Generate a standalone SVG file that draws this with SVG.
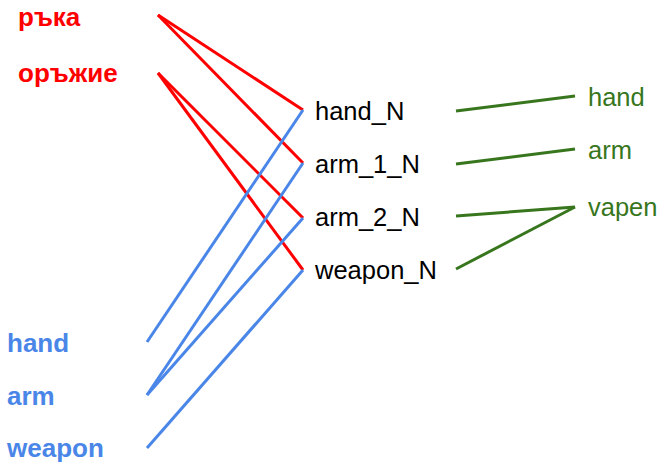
<svg xmlns="http://www.w3.org/2000/svg" width="660" height="463" viewBox="0 0 660 463">
  <style>
    text { font-family: "Liberation Sans", Arial, sans-serif; font-size: 25.5px; }
    .bg { font-weight: bold; fill: #ff0000; font-size: 26px; }
    .en { font-weight: bold; fill: #4a86e8; font-size: 26px; }
    .lex { fill: #000000; }
    .sv { fill: #38761d; }
    .c-bg { stroke: #ff0000; stroke-width: 3; fill: none; }
    .c-en { stroke: #4a86e8; stroke-width: 3; fill: none; }
    .c-sv { stroke: #38761d; stroke-width: 3; fill: none; }
  </style>
  <rect width="660" height="463" fill="#ffffff"/>

  <!-- connectors -->
  <g id="connectors">
    <line class="c-bg" x1="158" y1="15" x2="303" y2="110"/>
    <line class="c-bg" x1="158" y1="15" x2="303" y2="163"/>
    <line class="c-bg" x1="158" y1="73" x2="303" y2="218"/>
    <line class="c-bg" x1="158" y1="73" x2="303" y2="270"/>
    <line class="c-en" x1="147" y1="342" x2="303" y2="110"/>
    <line class="c-en" x1="147" y1="395" x2="303" y2="163"/>
    <line class="c-en" x1="147" y1="395" x2="303" y2="218"/>
    <line class="c-en" x1="147" y1="448" x2="303" y2="270"/>
    <line class="c-sv" x1="456" y1="111" x2="575" y2="96"/>
    <line class="c-sv" x1="456" y1="164" x2="575" y2="149"/>
    <line class="c-sv" x1="456" y1="216" x2="575" y2="207"/>
    <line class="c-sv" x1="456" y1="269" x2="575" y2="207"/>
  </g>

  <!-- Bulgarian words -->
  <g id="bg-raka"><text class="bg" x="18" y="26">ръка</text></g>
  <g id="bg-orazhie"><text class="bg" x="18" y="82">оръжие</text></g>

  <!-- English words -->
  <g id="en-hand"><text class="en" x="7" y="352">hand</text></g>
  <g id="en-arm"><text class="en" x="7" y="405">arm</text></g>
  <g id="en-weapon"><text class="en" x="7" y="457">weapon</text></g>

  <!-- lexicon entries -->
  <g id="lex-hand"><text class="lex" x="315" y="120">hand_N</text></g>
  <g id="lex-arm1"><text class="lex" x="315" y="173">arm_1_N</text></g>
  <g id="lex-arm2"><text class="lex" x="315" y="226">arm_2_N</text></g>
  <g id="lex-weapon"><text class="lex" x="315" y="279">weapon_N</text></g>

  <!-- Swedish words -->
  <g id="sv-hand"><text class="sv" x="588" y="106">hand</text></g>
  <g id="sv-arm"><text class="sv" x="588" y="159">arm</text></g>
  <g id="sv-vapen"><text class="sv" x="588" y="216">vapen</text></g>
</svg>
